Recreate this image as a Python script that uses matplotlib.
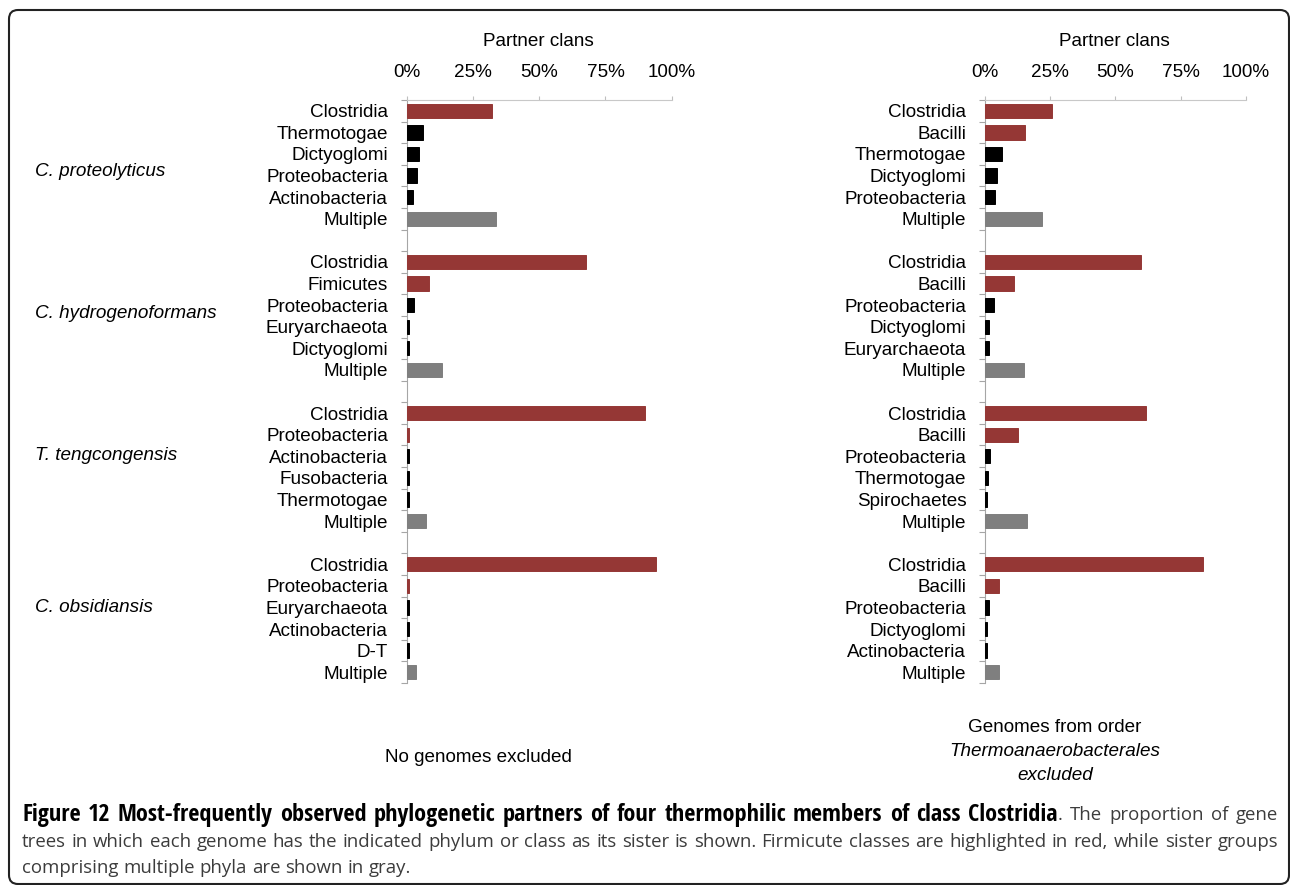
import matplotlib
matplotlib.use("Agg")
import numpy as np
import matplotlib.pyplot as plt
from matplotlib.patches import FancyBboxPatch
from matplotlib.transforms import IdentityTransform
from matplotlib import font_manager

W, H = 1290, 885

# ---- data (percent of gene trees) ----
genomes = ["C. proteolyticus", "C. hydrogenoformans", "T. tengcongensis", "C. obsidiansis"]

left_labels = [
    ["Clostridia", "Thermotogae", "Dictyoglomi", "Proteobacteria", "Actinobacteria", "Multiple"],
    ["Clostridia", "Fimicutes", "Proteobacteria", "Euryarchaeota", "Dictyoglomi", "Multiple"],
    ["Clostridia", "Proteobacteria", "Actinobacteria", "Fusobacteria", "Thermotogae", "Multiple"],
    ["Clostridia", "Proteobacteria", "Euryarchaeota", "Actinobacteria", "D-T", "Multiple"],
]
left_values = [
    [32.3, 6.3, 4.5, 3.8, 2.5, 33.6],
    [67.7, 8.4, 2.9, 1.0, 1.0, 13.2],
    [89.9, 0.8, 0.7, 0.7, 0.7, 7.3],
    [94.0, 1.0, 0.7, 0.7, 0.7, 3.6],
]
left_kinds = [
    ["red", "other", "other", "other", "other", "multi"],
    ["red", "red", "other", "other", "other", "multi"],
    ["red", "red", "other", "other", "other", "multi"],
    ["red", "red", "other", "other", "other", "multi"],
]

right_labels = [
    ["Clostridia", "Bacilli", "Thermotogae", "Dictyoglomi", "Proteobacteria", "Multiple"],
    ["Clostridia", "Bacilli", "Proteobacteria", "Dictyoglomi", "Euryarchaeota", "Multiple"],
    ["Clostridia", "Bacilli", "Proteobacteria", "Thermotogae", "Spirochaetes", "Multiple"],
    ["Clostridia", "Bacilli", "Proteobacteria", "Dictyoglomi", "Actinobacteria", "Multiple"],
]
right_values = [
    [25.6, 15.2, 6.5, 4.7, 3.7, 22.0],
    [59.7, 11.3, 3.3, 1.4, 1.4, 15.1],
    [61.8, 12.5, 1.9, 1.0, 0.8, 16.2],
    [83.8, 5.5, 1.7, 0.7, 0.6, 5.5],
]
right_kinds = [
    ["red", "red", "other", "other", "other", "multi"],
    ["red", "red", "other", "other", "other", "multi"],
    ["red", "red", "other", "other", "other", "multi"],
    ["red", "red", "other", "other", "other", "multi"],
]

x_ticks = [0, 25, 50, 75, 100]
x_ticklabels = ["0%", "25%", "50%", "75%", "100%"]

colors = {"red": "#953735", "other": "#000000", "multi": "#7f7f7f"}
FONT = "Liberation Sans"
FS = 13.6


def px(x, y):
    # pixel (from top-left) -> figure fraction
    return x / W, 1 - y / H


def draw_panel(ax, labels, values, kinds):
    ys, vals, cols, labs = [], [], [], []
    slot = 0
    for g in range(len(labels)):
        for lab, v, k in zip(labels[g], values[g], kinds[g]):
            ys.append(slot)
            vals.append(v)
            cols.append(colors[k])
            labs.append(lab)
            slot += 1
        slot += 1  # empty slot between genomes
    nslots = slot - 1
    ax.barh(ys, vals, height=0.66, color=cols, edgecolor=cols, linewidth=0.7, zorder=3)
    ax.set_xlim(0, 100)
    ax.set_ylim(nslots - 0.5, -0.5)
    ax.xaxis.tick_top()
    ax.set_xticks(x_ticks, x_ticklabels)
    ax.tick_params(axis="x", direction="out", length=3, color="#bfbfbf",
                   pad=11, labelsize=FS)
    ax.set_yticks(np.arange(-0.5, nslots, 1.0), [""] * (nslots + 1))
    ax.tick_params(axis="y", which="major", direction="out", length=4, color="#a6a6a6")
    ax.set_yticks(ys, labs, minor=True)
    ax.tick_params(axis="y", which="minor", length=0, pad=13.5, labelsize=FS)
    for s in ["right", "bottom"]:
        ax.spines[s].set_visible(False)
    ax.spines["top"].set_color("#c8c8c8")
    ax.spines["left"].set_color("#a6a6a6")
    ax.spines["left"].set_zorder(1)
    for t in ax.get_xticklabels() + ax.get_yticklabels(minor=True):
        t.set_fontfamily(FONT)


fig = plt.figure(figsize=(W / 100, H / 100), dpi=100)

ax1 = fig.add_axes([406.7 / W, 1 - 683 / H, 265 / W, 583 / H])
draw_panel(ax1, left_labels, left_values, left_kinds)
ax2 = fig.add_axes([985 / W, 1 - 683 / H, 260.7 / W, 583 / H])
draw_panel(ax2, right_labels, right_values, right_kinds)

fig.text(*px(538, 41), "Partner clans", ha="center", va="center", fontsize=FS, family=FONT)
fig.text(*px(1114, 41), "Partner clans", ha="center", va="center", fontsize=FS, family=FONT)

for name, y in zip(genomes, [172, 314, 456, 608]):
    fig.text(*px(35, y), name, ha="left", va="center", fontsize=FS, style="italic", family=FONT)

fig.text(*px(478, 757), "No genomes excluded", ha="center", va="center", fontsize=FS, family=FONT)
fig.text(*px(1055, 728), "Genomes from order", ha="center", va="center", fontsize=FS, family=FONT)
fig.text(*px(1055, 752), "Thermoanaerobacterales", ha="center", va="center", fontsize=FS,
         style="italic", family=FONT)
fig.text(*px(1055, 776), "excluded", ha="center", va="center", fontsize=FS,
         style="italic", family=FONT)

# rounded frame around the whole figure
frame = FancyBboxPatch((9, 1), 1280, 874, boxstyle="round,pad=0,rounding_size=9",
                       transform=IdentityTransform(), fill=False, edgecolor="#222222",
                       linewidth=1.5)
fig.patches.append(frame)

# ---- caption, justified like the journal layout ----
cap_lines = [
    [[("Figure", "bold")], [("12", "bold")], [("Most-frequently", "bold")], [("observed", "bold")],
     [("phylogenetic", "bold")], [("partners", "bold")], [("of", "bold")], [("four", "bold")],
     [("thermophilic", "bold")], [("members", "bold")], [("of", "bold")], [("class", "bold")],
     [("Clostridia", "bold"), (".", "normal")], [("The", "normal")], [("proportion", "normal")],
     [("of", "normal")], [("gene", "normal")]],
    [[(w, "normal")] for w in ("trees in which each genome has the indicated phylum or class as its "
                              "sister is shown. Firmicute classes are highlighted in red, while "
                              "sister groups").split()],
    [[(w, "normal")] for w in "comprising multiple phyla are shown in gray.".split()],
]
cap_y = [815, 842, 868]
cap_x0, cap_x1 = 22, 1278
cap_font = "Open Sans"
# the journal sets the bold lead-in in a condensed face; take the narrowest we have
installed = {f.name for f in font_manager.fontManager.ttflist}
bold_font = cap_font
for cand in ["Open Sans Condensed", "Roboto Condensed", "Liberation Sans Narrow",
             "Noto Sans Condensed", "Roboto"]:
    if cand in installed:
        bold_font = cand
        break
renderer = fig.canvas.get_renderer()
sizes = {"normal": 12.0, "bold": 12.0}


def seg_font(weight):
    return bold_font if weight == "bold" else cap_font


def text_width(s, weight):
    t = fig.text(0, 0, s, fontsize=sizes[weight], fontweight=weight, family=seg_font(weight))
    w = t.get_window_extent(renderer).width
    t.remove()
    return w


def tok_width(tok, weight=None):
    return sum(text_width(s, wt) for s, wt in tok if weight is None or wt == weight)


target = cap_x1 - cap_x0
# regular size: the long plain line fills the width with normal spacing
space = text_width("a a", "normal") - text_width("aa", "normal")
nat = sum(tok_width(t) for t in cap_lines[1]) + space * (len(cap_lines[1]) - 1)
sizes["normal"] *= target * 0.985 / nat
sizes["bold"] = sizes["normal"]
space = text_width("a a", "normal") - text_width("aa", "normal")
# bold size: the first line fills the width with normal spacing too
reg = sum(tok_width(t, "normal") for t in cap_lines[0])
bld = sum(tok_width(t, "bold") for t in cap_lines[0])
fac = (target * 0.985 - reg - space * (len(cap_lines[0]) - 1)) / bld
sizes["bold"] *= min(max(fac, 1.0), 1.3)

for i, (tokens, y) in enumerate(zip(cap_lines, cap_y)):
    widths = [tok_width(tok) for tok in tokens]
    if i < len(cap_lines) - 1:
        gap = (target - sum(widths)) / (len(tokens) - 1)
    else:
        gap = space
    x = cap_x0
    for tok, wtok in zip(tokens, widths):
        xx = x
        for s, wt in tok:
            col = "#000000" if wt == "bold" else "#3c3c3c"
            fig.text(*px(xx, y), s, ha="left", va="center", fontsize=sizes[wt], fontweight=wt,
                     family=seg_font(wt), color=col)
            xx += text_width(s, wt)
        x += wtok + gap

fig.savefig("out.png", dpi=100)
